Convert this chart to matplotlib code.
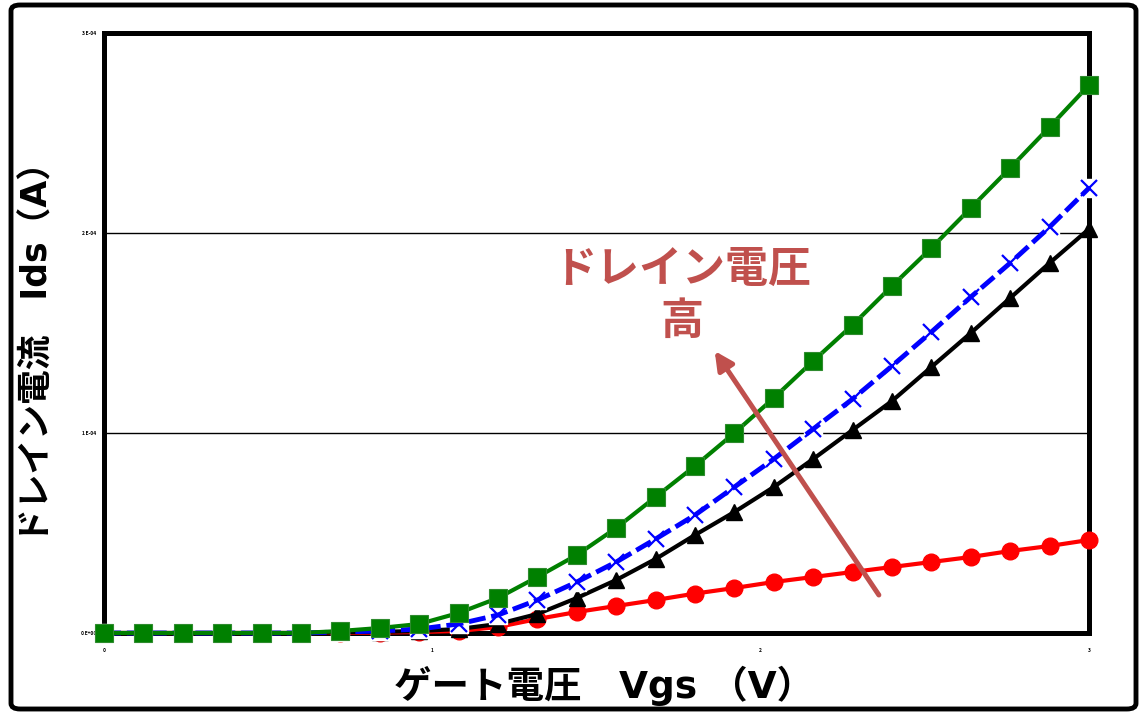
import matplotlib
matplotlib.use('Agg')
import matplotlib.pyplot as plt
from matplotlib.patches import FancyBboxPatch

plt.rcParams['font.family'] = ['Noto Sans CJK JP', 'DejaVu Sans']

# gate voltage sweep
vgs = [0.00, 0.12, 0.24, 0.36, 0.48, 0.60, 0.72, 0.84, 0.96, 1.08, 1.20, 1.32, 1.44,
       1.56, 1.68, 1.80, 1.92, 2.04, 2.16, 2.28, 2.40, 2.52, 2.64, 2.76, 2.88, 3.00]

# drain current for four drain voltages (low -> high)
ids_vd1 = [0, 0, 0, 0, 0, 0, 0, 0.002, 0.005, 0.01, 0.03, 0.07, 0.105, 0.135, 0.165,
           0.197, 0.225, 0.255, 0.28, 0.305, 0.33, 0.355, 0.38, 0.41, 0.435, 0.465]
ids_vd2 = [0, 0, 0, 0, 0, 0, 0.003, 0.006, 0.01, 0.02, 0.045, 0.095, 0.175, 0.265, 0.37,
           0.49, 0.605, 0.73, 0.87, 1.015, 1.16, 1.33, 1.5, 1.675, 1.85, 2.02]
ids_vd3 = [0, 0, 0, 0, 0, 0, 0.005, 0.01, 0.02, 0.045, 0.09, 0.165, 0.255, 0.355, 0.47,
           0.59, 0.73, 0.87, 1.02, 1.17, 1.335, 1.505, 1.68, 1.85, 2.03, 2.225]
ids_vd4 = [0, 0, 0, 0, 0, 0, 0.01, 0.025, 0.045, 0.10, 0.175, 0.28, 0.39, 0.525, 0.68,
           0.835, 1.0, 1.175, 1.36, 1.54, 1.735, 1.925, 2.125, 2.325, 2.53, 2.74]

yticks = [0, 1, 2, 3]
ytick_labels = ['0.E+00', '1.E-04', '2.E-04', '3.E-04']
xticks = [0, 1, 2, 3]
xtick_labels = ['0', '1', '2', '3']

fig = plt.figure(figsize=(11.4, 7.12), dpi=100)
ax = fig.add_axes([104 / 1140, 1 - 633 / 712, 985 / 1140, 600 / 712])

ax.plot(vgs, ids_vd1, color='red', lw=3, marker='o', ms=12, mec='red',
        clip_on=False, zorder=3)
ax.plot(vgs, ids_vd2, color='black', lw=3, marker='^', ms=12, mec='black',
        clip_on=False, zorder=4)
# white box behind the crosses
ax.plot(vgs, ids_vd3, ls='none', marker='s', ms=13, mfc='white', mec='white',
        clip_on=False, zorder=5)
ax.plot(vgs, ids_vd3, color='blue', lw=3.5, ls=(0, (3.5, 1.2)), marker='x', ms=12,
        mew=1.6, clip_on=False, zorder=5)
ax.plot(vgs, ids_vd4, color='green', lw=3, marker='s', ms=13, mec='#2e8b2e',
        mew=0.8, clip_on=False, zorder=6)

ax.set_xlim(0, 3)
ax.set_ylim(0, 3)
ax.set_yticks(yticks)
ax.set_yticklabels(ytick_labels, fontsize=3.5, fontweight='bold')
ax.set_xticks(xticks)
ax.set_xticklabels(xtick_labels, fontsize=3.5, fontweight='bold')
ax.tick_params(length=0)
ax.tick_params(axis='x', pad=11)
ax.tick_params(axis='y', pad=5)
ax.yaxis.grid(True, color='black', lw=1)
ax.set_axisbelow(True)
for sp in ax.spines.values():
    sp.set_linewidth(3.6)

label_font = ['DejaVu Sans', 'Noto Sans CJK JP']
fig.text(604 / 1140, 1 - 686 / 712, 'ゲート電圧　Vgs （V）', fontsize=27,
         fontweight='bold', ha='center', va='center', family=label_font)
fig.text(38 / 1140, 1 - 344 / 712, 'ドレイン電流　Ids（A）', fontsize=25,
         fontweight='bold', ha='center', va='center', rotation=90,
         family=label_font)

# arrow: higher drain voltage
arrow_color = '#c0504d'
ax.annotate('', xy=(1.86, 1.41), xytext=(2.36, 0.19),
            arrowprops=dict(arrowstyle='-|>,head_length=1.1,head_width=0.55',
                            color=arrow_color, lw=3.6, shrinkA=0, shrinkB=0),
            zorder=7)
ax.text(1.76, 1.69, 'ドレイン電圧\n高', color=arrow_color, fontsize=31,
        fontweight='bold', ha='center', va='center', linespacing=1.25, zorder=7)

# outer frame
frame = FancyBboxPatch((11 / 1140, 3 / 712), 1125 / 1140, 704 / 712,
                       boxstyle='round,pad=0,rounding_size=0.008',
                       transform=fig.transFigure, fill=False, lw=3.5,
                       ec='black')
fig.patches.append(frame)

fig.savefig('out.png', dpi=100)
